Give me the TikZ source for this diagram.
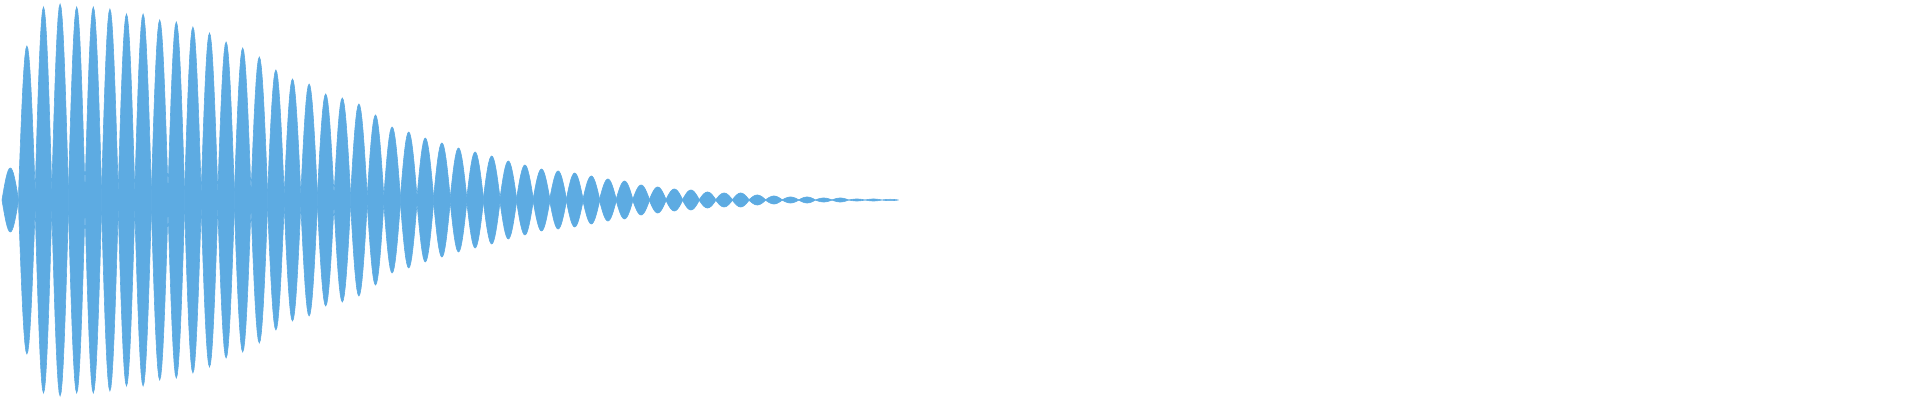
\documentclass[tikz,border=0pt]{standalone}
\definecolor{wavec}{RGB}{93,171,226}
\tikzset{wave/.style={fill=wavec,draw=wavec,line width=0.3pt}}
\begin{document}
\begin{tikzpicture}[x=0.5pt,y=0.5pt]
\useasboundingbox (0,-200) rectangle (1920,200);
\foreach \h [count=\k from 0] in {32,154,193,196,193,193,191,186,186,180,178,173,167,158,152,143,130,121,116,106,102,96,85,73,68,62,57,52,48,44,39,35,31,29,27,24,21,19,15,13,11,10,8,7,7,5,4,3,3,2,2,1,1,0.7}{
  \pgfmathsetmacro\xa{2+16.6*\k}
  \pgfmathsetmacro\nk{\k==0 ? 0 : 0.05*\h}
  \fill[wave] plot[domain=0:1,samples=17] ({\xa+16.6*\x},{\nk+(\h-\nk)*sin(180*\x)})
    -- plot[domain=1:0,samples=17] ({\xa+16.6*\x},{-(\nk+(\h-\nk)*sin(180*\x))}) -- cycle;
}
\end{tikzpicture}
\end{document}
